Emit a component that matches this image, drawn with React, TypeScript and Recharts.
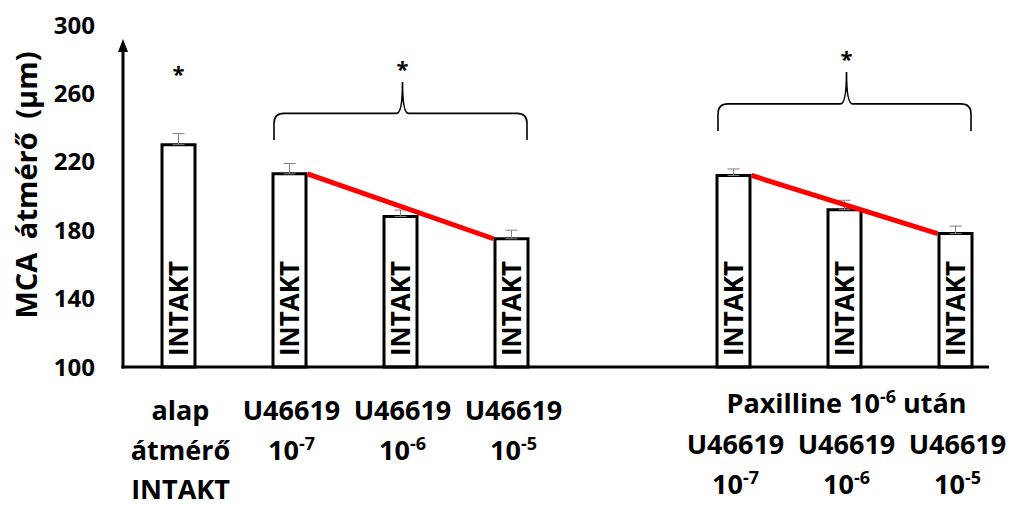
import React from 'react';
import {
  ComposedChart,
  Bar,
  XAxis,
  YAxis,
  ErrorBar,
  LabelList,
  ReferenceLine,
  ReferenceArea,
  ReferenceDot,
} from 'recharts';

// ---------- data ----------
const categories = ['c1', 'c2', 'c3', 'c4', 'c5', 'c6', 'c7', 'c8'];
const diameters: (number | null)[] = [230, 213, 188, 175, null, 212, 192, 178];
const sems: (number | null)[] = [6.5, 6, 3.8, 5, null, 3.8, 5.5, 4.4];
const barTexts: (string | null)[] = ['INTAKT', 'INTAKT', 'INTAKT', 'INTAKT', null, 'INTAKT', 'INTAKT', 'INTAKT'];
// '|' separates normal / superscript parts
const xLabelLines: string[][] = [
  ['alap', 'átmérő', 'INTAKT'],
  ['U46619', '10|-7'],
  ['U46619', '10|-6'],
  ['U46619', '10|-5'],
  [],
  ['', 'U46619', '10|-7'],
  ['Paxilline 10|-6| után', 'U46619', '10|-6'],
  ['', 'U46619', '10|-5'],
];
const yTicks = [100, 140, 180, 220, 260, 300];
const yLabel = 'MCA átmérő (µm)';
// trend lines: [from category, to category]
const trendPairs: [number, number][] = [
  [1, 3],
  [5, 7],
];
// significance braces: [first cat, last cat, bottom value, top value]
const braces: [number, number, number, number][] = [
  [1, 3, 232.7, 266.7],
  [5, 7, 238, 272.5],
];
const starSingle = { cat: 0, value: 273.7 };
const yAxisTop = 291.8;

const data = categories.map((name, i) => ({
  name,
  value: diameters[i],
  err: sems[i] == null ? null : [0, sems[i]],
  inner: barTexts[i],
}));

// ---------- style constants ----------
const FONT = "'Open Sans', 'Noto Sans', sans-serif";
const BAR = 33;
const BAR_STROKE = 3;
const BRACE_INSET = 40;

const renderParts = (s: string, supSize: number, supDy: number) => {
  const parts = s.split('|');
  return parts.map((p, i) =>
    i % 2 === 1 ? (
      <tspan key={i} fontSize={supSize} dy={-supDy}>
        {p}
      </tspan>
    ) : (
      <tspan key={i} dy={i > 0 ? supDy : 0}>
        {p}
      </tspan>
    )
  );
};

const XTick = (props: any) => {
  const { x, y, index } = props;
  const lines = xLabelLines[index] || [];
  const base = index >= 5 ? 46 : 53;
  const step = index >= 5 ? 40.5 : 39.5;
  return (
    <g>
      {lines.map((ln, li) =>
        ln ? (
          <text
            key={li}
            x={x + 2}
            y={y + base + li * step}
            textAnchor="middle"
            fontFamily={FONT}
            fontWeight={700}
            fontSize={27}
            fill="#000"
          >
            {renderParts(ln, 18, 10)}
          </text>
        ) : null
      )}
    </g>
  );
};

const Brace = (props: any) => {
  const { x, y, width, height } = props;
  const left = x + BRACE_INSET;
  const right = x + width - BRACE_INSET;
  const cx = (left + right) / 2 + 2;
  const top = y;
  const bottom = y + height;
  const hy = y + height * 0.54;
  const r = 10;
  const s = 6;
  const d = `M${left},${bottom} L${left},${hy + r} Q${left},${hy} ${left + r},${hy} L${cx - s},${hy} Q${cx},${hy} ${cx},${top} Q${cx},${hy} ${cx + s},${hy} L${right - r},${hy} Q${right},${hy} ${right},${hy + r} L${right},${bottom}`;
  return (
    <g>
      <path d={d} fill="none" stroke="#000" strokeWidth={1.6} />
      <text x={cx} y={top - 5} textAnchor="middle" fontFamily={FONT} fontWeight={700} fontSize={22} fill="#000">
        *
      </text>
    </g>
  );
};

const InnerLabel = (props: any) => {
  const { x, y, width, height, value } = props;
  if (!value) return null;
  const cx = Number(x) + Number(width) / 2;
  const by = Number(y) + Number(height);
  return (
    <text
      transform={`translate(${cx + 9},${by - 11}) rotate(-90)`}
      textAnchor="start"
      fontFamily={FONT}
      fontWeight={700}
      fontSize={26}
      fill="#000"
    >
      {value}
    </text>
  );
};

export default function App() {
  return (
    <div style={{ position: 'absolute', left: 0, top: 0, background: '#fff' }}>
      <ComposedChart
        width={1018}
        height={506}
        data={data}
        margin={{ top: 25, right: 7, bottom: 0, left: 0 }}
      >
        <XAxis
          dataKey="name"
          interval={0}
          axisLine={false}
          tickLine={false}
          tickSize={0}
          tickMargin={0}
          height={139}
          tick={<XTick />}
        />
        <YAxis
          type="number"
          domain={[100, 300]}
          ticks={yTicks}
          width={123}
          axisLine={false}
          tickLine={false}
          tickSize={0}
          tickMargin={28}
          tick={{ fontSize: 24, fontWeight: 700, fill: '#000', fontFamily: FONT }}
          label={{
            content: (p: any) => {
              const vb = p.viewBox || { x: 0, y: 25, width: 123, height: 342 };
              return (
                <text
                  transform={`translate(${vb.x + 37},${vb.y + vb.height / 2 - 11}) rotate(-90)`}
                  textAnchor="middle"
                  fontFamily={FONT}
                  fontWeight={700}
                  fontSize={29}
                  wordSpacing={6}
                  fill="#000"
                >
                  {yLabel}
                </text>
              );
            },
          }}
        />
        <Bar
          dataKey="value"
          barSize={BAR}
          fill="#fff"
          stroke="#000"
          strokeWidth={BAR_STROKE}
          isAnimationActive={false}
        >
          <ErrorBar dataKey="err" width={6} stroke="#7f7f7f" strokeWidth={1} />
          <LabelList dataKey="inner" content={<InnerLabel />} />
        </Bar>
        {trendPairs.map(([a, b], i) => (
          <ReferenceLine
            key={`t${i}`}
            segment={[
              { x: categories[a], y: diameters[a] as number },
              { x: categories[b], y: diameters[b] as number },
            ]}
            shape={(p: any) => (
              <line
                x1={p.x1 + BAR / 2 + BAR_STROKE / 2}
                y1={p.y1}
                x2={p.x2 - BAR / 2 - BAR_STROKE / 2}
                y2={p.y2}
                stroke="#ff0000"
                strokeWidth={5}
              />
            )}
          />
        ))}
        {braces.map(([a, b, lo, hi], i) => (
          <ReferenceArea
            key={`b${i}`}
            x1={categories[a]}
            x2={categories[b]}
            y1={lo}
            y2={hi}
            shape={<Brace />}
          />
        ))}
        <ReferenceDot
          x={categories[starSingle.cat]}
          y={starSingle.value}
          r={0}
          shape={(p: any) => (
            <text x={p.cx} y={p.cy + 12} textAnchor="middle" fontFamily={FONT} fontWeight={700} fontSize={22} fill="#000">
              *
            </text>
          )}
        />
        <ReferenceLine
          y={100}
          shape={(p: any) => {
            const l = Math.min(p.x1, p.x2);
            const r = Math.max(p.x1, p.x2);
            return <line x1={l - 1.5} y1={p.y1} x2={r - 22} y2={p.y2} stroke="#000" strokeWidth={3} />;
          }}
        />
        <ReferenceLine
          position="start"
          segment={[
            { x: categories[0], y: 100 },
            { x: categories[0], y: yAxisTop },
          ]}
          shape={(p: any) => {
            const bot = Math.max(p.y1, p.y2);
            const top = Math.min(p.y1, p.y2);
            const x = p.x1;
            return (
              <g>
                <line x1={x} y1={bot + 1.5} x2={x} y2={top + 10} stroke="#000" strokeWidth={3} />
                <path d={`M${x - 5},${top + 13} L${x},${top} L${x + 5},${top + 13} Z`} fill="#000" />
              </g>
            );
          }}
        />
      </ComposedChart>
    </div>
  );
}
